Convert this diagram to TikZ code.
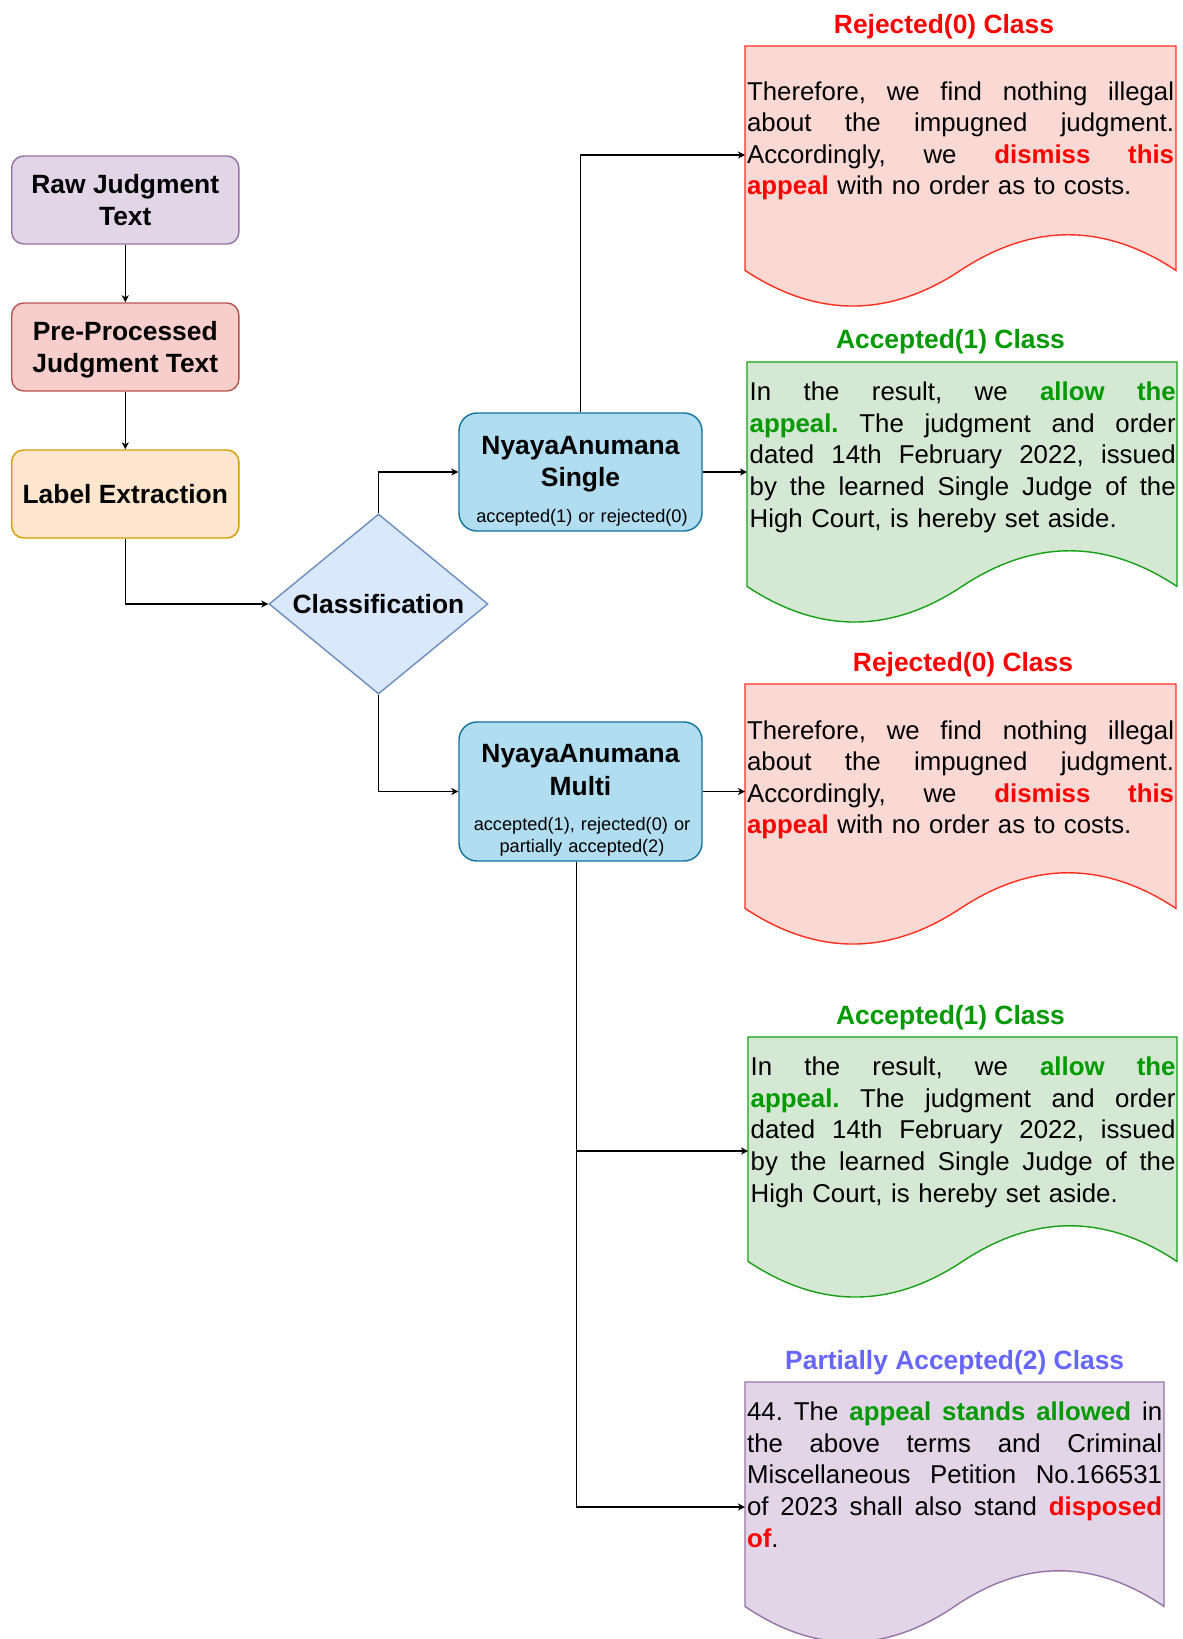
\documentclass[tikz,border=0pt]{standalone}
\usepackage{fontspec}
\setmainfont{Liberation Sans}
\usetikzlibrary{shapes.geometric,arrows.meta}
\definecolor{rawfill}{HTML}{E1D5E7}\definecolor{rawdraw}{HTML}{9673A6}
\definecolor{prefill}{HTML}{F8CECC}\definecolor{predraw}{HTML}{B85450}
\definecolor{labfill}{HTML}{FFE6CC}\definecolor{labdraw}{HTML}{D79B00}
\definecolor{clsfill}{HTML}{DAE8FC}\definecolor{clsdraw}{HTML}{6C8EBF}
\definecolor{nyfill}{HTML}{B1DDF0}\definecolor{nydraw}{HTML}{10739E}
\definecolor{rejfill}{HTML}{FAD9D5}\definecolor{rejdraw}{HTML}{FF2E1F}
\definecolor{accfill}{HTML}{D5E8D4}\definecolor{accdraw}{HTML}{16A016}
\definecolor{parfill}{HTML}{E1D5E7}\definecolor{pardraw}{HTML}{9673A6}
\definecolor{redtxt}{HTML}{FF0000}\definecolor{greentxt}{HTML}{009900}\definecolor{bluetxt}{HTML}{6666FF}
\newcommand{\jl}[1]{\leavevmode\hbox to \hsize{\spaceskip=0.278em plus 1fil\xspaceskip=0.278em plus 1fil\relax #1}}
\newcommand{\redb}[1]{\textcolor{redtxt}{\bfseries #1}}
\newcommand{\greenb}[1]{\textcolor{greentxt}{\bfseries #1}}
% document shape: x, y (top-left, px), width, fill, draw
\newcommand{\mydoc}[5]{%
  \filldraw[fill=#4,draw=#5,line width=0.7pt] (#1,#2) -- ({#1+#3},#2) -- ({#1+#3},{#2+224.4})
    .. controls ({#1+#3*5/6},{#2+176.9}) and ({#1+#3*2/3},{#2+176.9}) .. ({#1+#3/2},{#2+224.4})
    .. controls ({#1+#3/3},{#2+271.9}) and ({#1+#3/6},{#2+271.9}) .. (#1,{#2+224.4}) -- cycle;}
\begin{document}
\begin{tikzpicture}[x=0.5pt,y=-0.5pt,
  proc/.style={draw, rounded corners=6pt, line width=0.7pt, minimum width=113.6pt, minimum height=44pt,
    align=center, inner sep=0pt, font=\bfseries\fontsize{13.2pt}{16pt}\selectfont},
  cls/.style={diamond, aspect=1.22, draw=clsdraw, fill=clsfill, line width=0.7pt, minimum width=109.5pt, minimum height=90pt,
    inner sep=0pt, font=\bfseries\fontsize{13.2pt}{16pt}\selectfont},
  nybox/.style={draw=nydraw, fill=nyfill, rounded corners=9pt, line width=0.7pt, minimum width=121.5pt, inner sep=0pt},
  nylbl/.style={anchor=base, inner sep=0pt, text width=121.5pt, align=center, font=\bfseries\fontsize{13.2pt}{16.3pt}\selectfont},
  nysmall/.style={anchor=base, inner sep=0pt, text width=130pt, align=center, font=\fontsize{9.1pt}{11.35pt}\selectfont},
  ttl/.style={anchor=base, inner sep=0pt, font=\bfseries\fontsize{13.2pt}{16pt}\selectfont},
  doctext/.style={anchor=base west, inner sep=0pt, align=left, font=\fontsize{12.9pt}{15.8pt}\selectfont\frenchspacing},
  arr/.style={-{Stealth[length=3.5pt,width=3.5pt,inset=1pt]}, line width=0.6pt, draw=black}
]
\useasboundingbox (0,0) rectangle (1183,1639);
\clip (0,0) rectangle (1183,1639);
\fill[white] (0,0) rectangle (1183,1639);

% left column
\node[proc, fill=rawfill, draw=rawdraw] (raw) at (125.3,200) {Raw Judgment\\Text};
\node[proc, fill=prefill, draw=predraw] (pre) at (125.3,347) {Pre-Processed\\\smash{Judgment Text}};
\node[proc, fill=labfill, draw=labdraw] (lab) at (125.3,494) {Label Extraction};
\node[cls] (cls) at (378.5,604) {Classification};

% models
\node[nybox, minimum height=59pt] (single) at (580.5,472) {};
\node[nylbl] (singlelbl) at (580.5,454) {NyayaAnumana\\Single};
\node[nysmall] (singlesub) at (582,522) {accepted(1) or rejected(0)};
\node[nybox, minimum height=69.5pt] (multi) at (580.5,791.5) {};
\node[nylbl] (multilbl) at (580.5,762.7) {NyayaAnumana\\Multi};
\node[nysmall] (multisub) at (582,830) {accepted(1), rejected(0) or\\partially accepted(2)};

% documents
\mydoc{745}{46}{431}{rejfill}{rejdraw}
\mydoc{747}{362}{430}{accfill}{accdraw}
\mydoc{745}{684}{431}{rejfill}{rejdraw}
\mydoc{748}{1037}{429}{accfill}{accdraw}
\mydoc{745}{1382}{419}{parfill}{pardraw}

\node[ttl, text=redtxt] (t1) at (944,33.3) {Rejected(0) Class};
\node[ttl, text=greentxt] (t2) at (950.5,348) {Accepted(1) Class};
\node[ttl, text=redtxt] (t3) at (963,671.7) {Rejected(0) Class};
\node[ttl, text=greentxt] (t4) at (950.5,1024) {Accepted(1) Class};
\node[ttl, text=bluetxt] (t5) at (954.7,1369) {Partially Accepted(2) Class};

\node[doctext, text width=213.5pt] (x1) at (746.7,100) {%
\jl{Therefore, we find nothing illegal}\\
\jl{about the impugned judgment.}\\
\jl{Accordingly, we \redb{dismiss this}}\\
\redb{appeal} with no order as to costs.};
\node[doctext, text width=213pt] (x2) at (749.3,400.7) {%
\jl{In the result, we \greenb{allow the}}\\
\jl{\greenb{appeal.} The judgment and order}\\
\jl{dated 14th February 2022, issued}\\
\jl{by the learned Single Judge of the}\\
High Court, is hereby set aside.};
\node[doctext, text width=213.5pt] (x3) at (746.7,739) {%
\jl{Therefore, we find nothing illegal}\\
\jl{about the impugned judgment.}\\
\jl{Accordingly, we \redb{dismiss this}}\\
\redb{appeal} with no order as to costs.};
\node[doctext, text width=212.4pt] (x4) at (750.3,1075.7) {%
\jl{In the result, we \greenb{allow the}}\\
\jl{\greenb{appeal.} The judgment and order}\\
\jl{dated 14th February 2022, issued}\\
\jl{by the learned Single Judge of the}\\
High Court, is hereby set aside.};
\node[doctext, text width=207.5pt] (x5) at (746.7,1420.7) {%
\jl{44. The \greenb{appeal stands allowed} in}\\
\jl{the above terms and Criminal}\\
\jl{Miscellaneous Petition No.166531}\\
\jl{of 2023 shall also stand \redb{disposed}}\\
\redb{of}.};

% arrow targets on document edges
\coordinate (d1in) at (745,155);
\coordinate (d2in) at (747,472);
\coordinate (d3in) at (745,791.5);
\coordinate (d4in) at (748,1151);
\coordinate (d5in) at (745,1507);

% connectors
\draw[arr] (raw.south) -- (pre.north);
\draw[arr] (pre.south) -- (lab.north);
\draw[arr] (lab.south) |- (cls.west);
\draw[arr] (cls.north) |- (single.west);
\draw[arr] (cls.south) |- (multi.west);
\draw[arr] (single.north) |- (d1in);
\draw[arr] (single.east) -- (d2in);
\draw[arr] (multi.east) -- (d3in);
\draw[arr] ([xshift=-2pt]multi.south) |- (d4in);
\draw[arr] ([xshift=-2pt]multi.south) |- (d5in);
\end{tikzpicture}
\end{document}
